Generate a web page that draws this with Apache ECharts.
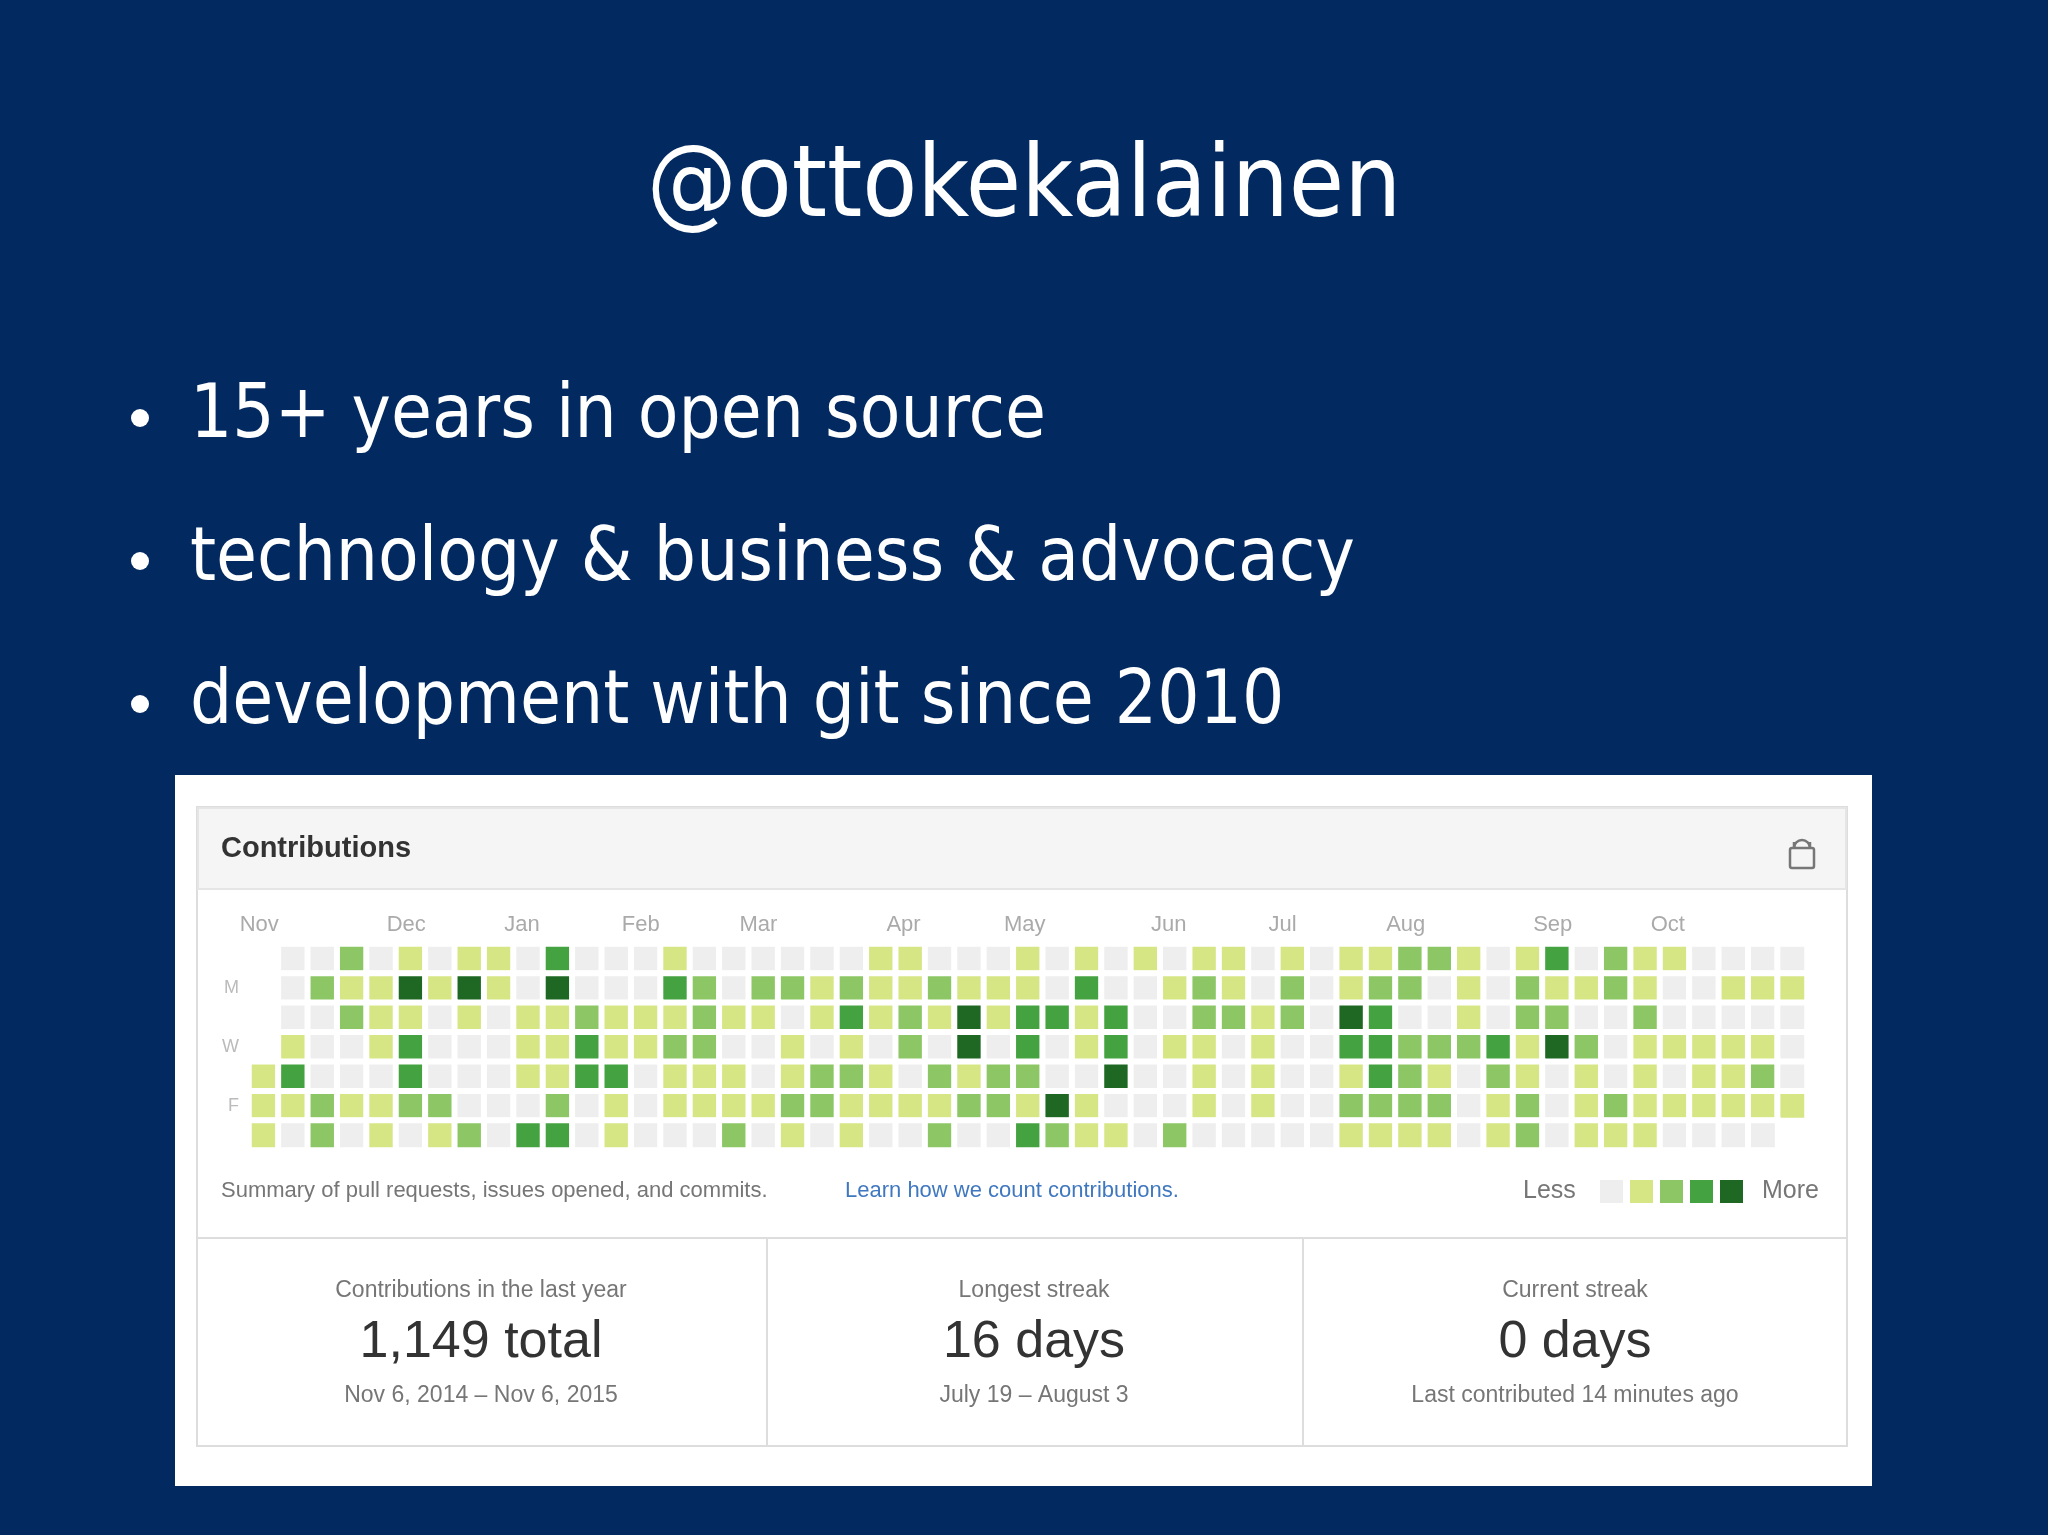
<!DOCTYPE html>
<html>
<head>
<meta charset="utf-8">
<script src="https://cdn.jsdelivr.net/npm/echarts@6/dist/echarts.min.js"></script>
<style>
  html, body { margin: 0; padding: 0; background: #022a60; }
  #chart { width: 2048px; height: 1535px; }
</style>
</head>
<body>
<div id="chart"></div>
<script>
// ── Data ────────────────────────────────────────────────────────────────
// contribution level per week column (0..52) for each weekday row (Sun..Sat)
// null = day outside the year window
const row0 = [null,0,0,2,0,1,0,1,1,0,3,0,0, 0,1,0,0,0,0,0,0,1,1,0,0,0, 1,0,1,0,1,0,1,1,0,1,0,1,1,2, 2,1,0,1,3,0,2,1,1,0,0,0,0];
const row1 = [null,0,2,1,1,4,1,4,1,0,4,0,0, 0,3,2,0,2,2,1,2,1,1,2,1,1, 1,0,3,0,0,1,2,1,0,2,0,1,2,2, 0,1,0,2,1,1,2,1,0,0,1,1,1];
const row2 = [null,0,0,2,1,1,0,1,0,1,1,2,1, 1,1,2,1,1,0,1,3,1,2,1,4,1, 3,3,1,3,0,0,2,2,1,2,0,4,3,0, 0,1,0,2,2,0,0,2,0,0,0,0,0];
const row3 = [null,1,0,0,1,3,0,0,0,1,1,3,1, 1,2,2,0,0,1,0,1,0,2,0,4,0, 3,0,1,3,0,1,1,0,1,0,0,3,3,2, 2,2,3,1,4,2,0,1,1,1,1,1,0];
const row4 = [1,3,0,0,0,3,0,0,0,1,1,3,3, 0,1,1,1,0,1,2,2,1,0,2,1,2, 2,0,0,4,0,0,1,0,1,0,0,1,3,2, 1,0,2,1,0,1,0,1,0,1,1,2,0];
const row5 = [1,1,2,1,1,2,2,0,0,0,2,0,1, 0,1,1,1,1,2,2,1,1,1,1,2,2, 1,4,1,0,0,0,1,0,1,0,0,2,2,2, 2,0,1,2,0,1,2,1,1,1,1,1,1];
const row6 = [1,0,2,0,1,0,1,2,0,3,3,0,1, 0,0,0,2,0,1,0,1,0,0,2,0,0, 3,2,1,1,0,2,0,0,0,0,0,1,1,1, 1,0,1,2,0,1,1,1,0,0,0,0,null];
const rows = [row0, row1, row2, row3, row4, row5, row6];

const dayLabels = ['', 'M', '', 'W', '', 'F', ''];
const monthNames = ['Nov', 'Dec', 'Jan', 'Feb', 'Mar', 'Apr', 'May', 'Jun', 'Jul', 'Aug', 'Sep', 'Oct'];
const monthCols  = [0, 5, 9, 13, 17, 22, 26, 31, 35, 39, 44, 48];

const levelColors = ['#eeeeee', '#d6e685', '#8cc665', '#44a340', '#1e6823'];

const bullets = [
  '15+ years in open source',
  'technology & business & advocacy',
  'development with git since 2010',
];
const stats = [
  { label: 'Contributions in the last year', value: '1,149 total', sub: 'Nov 6, 2014 – Nov 6, 2015' },
  { label: 'Longest streak', value: '16 days', sub: 'July 19 – August 3' },
  { label: 'Current streak', value: '0 days', sub: 'Last contributed 14 minutes ago' },
];

// ── Build heatmap data ──────────────────────────────────────────────────
const weeks = rows[0].map((_, i) => i);
const heatData = [];
rows.forEach((r, y) => r.forEach((v, x) => { if (v !== null) heatData.push([x, y, v]); }));

const TITLE_FONT = '"Liberation Sans Narrow", "DejaVu Sans Condensed", sans-serif';
const UI_FONT = '"Liberation Sans", Arial, sans-serif';

// ── Slide decorations (text, panel) ─────────────────────────────────────
const graphics = [
  { type: 'text', left: 'center', top: 140, style: { text: '@ottokekalainen', fill: '#fff', font: '100px ' + TITLE_FONT } },
  { type: 'rect', shape: { x: 175, y: 775, width: 1697, height: 711 }, style: { fill: '#fff' }, z: -10 },
  { type: 'rect', shape: { x: 197, y: 807, width: 1650, height: 639 }, style: { fill: '#fff', stroke: '#dddddd', lineWidth: 2 }, z: -9 },
  { type: 'rect', shape: { x: 198, y: 808, width: 1648, height: 81 }, style: { fill: '#f5f5f5', stroke: '#e5e5e5', lineWidth: 2 }, z: -8 },
  { type: 'text', x: 221, y: 849, style: { text: 'Contributions', fill: '#333', font: 'bold 29px ' + UI_FONT, verticalAlign: 'middle' } },
  // lock icon
  { type: 'rect', shape: { x: 1790, y: 848, width: 24, height: 20, r: 2 }, style: { fill: 'none', stroke: '#777', lineWidth: 2.5 } },
  { type: 'arc', shape: { cx: 1802, cy: 848, r: 8, startAngle: Math.PI, endAngle: 0 }, style: { fill: 'none', stroke: '#777', lineWidth: 2.5 } },
  { type: 'line', shape: { x1: 1794, y1: 848, x2: 1794, y2: 842 }, style: { stroke: '#777', lineWidth: 2.5 } },
  { type: 'line', shape: { x1: 1810, y1: 848, x2: 1810, y2: 842 }, style: { stroke: '#777', lineWidth: 2.5 } },
  // summary line
  { type: 'text', x: 221, y: 1191, style: { text: 'Summary of pull requests, issues opened, and commits. ', fill: '#767676', font: '22px ' + UI_FONT, verticalAlign: 'middle' } },
  { type: 'text', x: 845, y: 1191, style: { text: 'Learn how we count contributions.', fill: '#4078c0', font: '22px ' + UI_FONT, verticalAlign: 'middle' } },
  { type: 'text', x: 1523, y: 1191, style: { text: 'Less', fill: '#767676', font: '25px ' + UI_FONT, verticalAlign: 'middle' } },
  { type: 'text', x: 1762, y: 1191, style: { text: 'More', fill: '#767676', font: '25px ' + UI_FONT, verticalAlign: 'middle' } },
  // stats area
  { type: 'line', shape: { x1: 198, y1: 1238, x2: 1846, y2: 1238 }, style: { stroke: '#dddddd', lineWidth: 2 } },
  { type: 'line', shape: { x1: 767, y1: 1238, x2: 767, y2: 1446 }, style: { stroke: '#dddddd', lineWidth: 2 } },
  { type: 'line', shape: { x1: 1303, y1: 1238, x2: 1303, y2: 1446 }, style: { stroke: '#dddddd', lineWidth: 2 } },
];

bullets.forEach((t, i) => {
  const y = 418 + i * 143;
  graphics.push({ type: 'circle', shape: { cx: 140, cy: y, r: 9 }, style: { fill: '#fff' } });
  graphics.push({ type: 'text', x: 190, y: y, style: { text: t, fill: '#fff', font: '74px ' + TITLE_FONT, verticalAlign: 'middle' } });
});

levelColors.forEach((c, i) => {
  graphics.push({ type: 'rect', shape: { x: 1600 + i * 30, y: 1180, width: 23, height: 23 }, style: { fill: c } });
});

const statCenters = [481, 1034, 1575];
stats.forEach((s, i) => {
  const x = statCenters[i];
  graphics.push({ type: 'text', x, y: 1291, style: { text: s.label, fill: '#767676', font: '23px ' + UI_FONT, align: 'center', verticalAlign: 'middle' } });
  graphics.push({ type: 'text', x, y: 1343, style: { text: s.value, fill: '#333', font: '52px ' + UI_FONT, align: 'center', verticalAlign: 'middle' } });
  graphics.push({ type: 'text', x, y: 1396, style: { text: s.sub, fill: '#767676', font: '23px ' + UI_FONT, align: 'center', verticalAlign: 'middle' } });
});

// ── Chart ───────────────────────────────────────────────────────────────
const chart = echarts.init(document.getElementById('chart'));
chart.setOption({
  backgroundColor: '#022a60',
  animation: false,
  grid: { left: 249, top: 944, width: 1558, height: 206 },
  xAxis: {
    type: 'category', data: weeks, position: 'top',
    axisLine: { show: false }, axisTick: { show: false }, splitLine: { show: false },
    axisLabel: {
      interval: 0, margin: 8, align: 'left', padding: [0, 0, 0, -24],
      color: '#aaaaaa', fontSize: 22, fontFamily: UI_FONT,
      formatter: (v, idx) => { const k = monthCols.indexOf(idx); return k >= 0 ? monthNames[k] : ''; },
    },
  },
  yAxis: {
    type: 'category', data: dayLabels, inverse: true,
    axisLine: { show: false }, axisTick: { show: false }, splitLine: { show: false },
    axisLabel: { interval: 0, margin: 10, color: '#bbbbbb', fontSize: 18, fontFamily: UI_FONT },
  },
  visualMap: {
    show: false, type: 'piecewise', dimension: 2,
    pieces: levelColors.map((c, i) => ({ value: i, color: c })),
  },
  series: [{
    type: 'heatmap', data: heatData,
    itemStyle: { borderColor: '#fff', borderWidth: 6 },
    emphasis: { disabled: true },
  }],
  graphic: graphics,
});
</script>
</body>
</html>
